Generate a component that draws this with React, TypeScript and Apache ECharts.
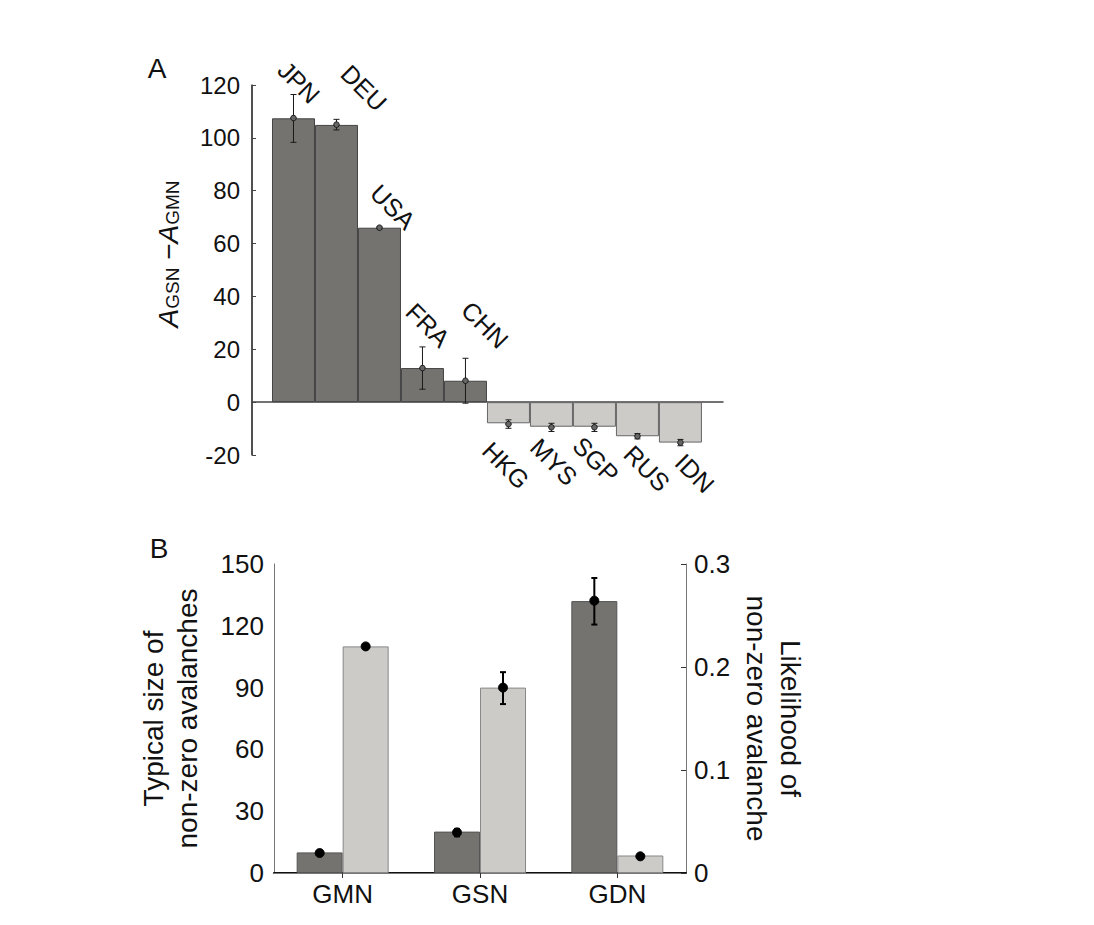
import React, { useEffect, useRef } from "react";
import * as echarts from "echarts";

// ---------- Panel A data ----------
const countriesA = ["JPN", "DEU", "USA", "FRA", "CHN", "HKG", "MYS", "SGP", "RUS", "IDN"];
const diffA = [107.4, 104.9, 66.0, 12.9, 8.1, -8.0, -9.3, -9.3, -12.9, -15.3];
const meanA = [107.5, 105.0, 66.0, 12.9, 8.1, -8.3, -9.5, -9.5, -12.9, -15.3];
const lowA = [98.3, 103.0, 65.7, 4.9, -0.4, -9.9, -11.1, -11.1, -13.9, -16.5];
const highA = [116.4, 107.0, 66.3, 20.9, 16.6, -6.7, -8.0, -8.0, -11.9, -14.1];
const yMinA = -20;
const yMaxA = 120;
const yStepA = 20;
const xMinA = 0.035;
const xMaxA = 10.99;

// label placement (screen px shift of label centre from bar end)
const labelShiftA = [
  [5.5, -36], [27.5, -37], [13.5, -21], [5.5, -43], [19.5, -56],
  [-2.5, 42], [2.5, 35], [1.5, 33], [9.5, 32], [14.5, 30.5],
];

// ---------- Panel B data ----------
const networksB = ["GMN", "GSN", "GDN"];
const sizeB = [10.0, 20.1, 132.0];
const sizeMeanB = [9.7, 19.7, 132.2];
const sizeLowB = [9.3, 17.8, 120.6];
const sizeHighB = [10.1, 21.4, 143.2];
const likeB = [0.22, 0.18, 0.017];
const likeMeanB = [0.22, 0.18, 0.0162];
const likeLowB = [0.2195, 0.164, 0.0158];
const likeHighB = [0.2205, 0.195, 0.0166];
const yMaxSizeB = 150;
const yStepSizeB = 30;
const yMaxLikeB = 0.3;
const yStepLikeB = 0.1;

const FONT = "'Liberation Sans', Arial, Helvetica, sans-serif";
const DARK = "#75736f";
const LIGHT = "#cdcbc8";

// layout of panel A plot area
const GRID_A = { left: 252, top: 85, width: 471, height: 370 };
const GRID_B = { left: 274, top: 564, width: 412, height: 309 };

function errorRenderer(opts: { shift: number; cap: number; lw: number; r: number; fill: string; stroke: string }) {
  return (params: any, api: any) => {
    const i = api.value(0);
    const lo = api.coord([i, api.value(1)]);
    const hi = api.coord([i, api.value(2)]);
    const m = api.coord([i, api.value(3)]);
    const x = lo[0] + opts.shift;
    const st = { stroke: opts.stroke, lineWidth: opts.lw };
    return {
      type: "group",
      children: [
        { type: "line", shape: { x1: x, y1: lo[1], x2: x, y2: hi[1] }, style: st },
        { type: "line", shape: { x1: x - opts.cap, y1: lo[1], x2: x + opts.cap, y2: lo[1] }, style: st },
        { type: "line", shape: { x1: x - opts.cap, y1: hi[1], x2: x + opts.cap, y2: hi[1] }, style: st },
        { type: "circle", shape: { cx: x, cy: m[1], r: opts.r }, style: { fill: opts.fill, stroke: opts.stroke, lineWidth: 1 } },
      ],
    };
  };
}

export default function App() {
  const ref = useRef<HTMLDivElement>(null);

  useEffect(() => {
    if (!ref.current) return;
    const chart = echarts.init(ref.current, undefined, { renderer: "svg" });

    // bar positions along the value x-axis: 1..10 (country rank)
    const posA = countriesA.map((_, i) => i + 1);

    const option: any = {
      animation: false,
      backgroundColor: "#ffffff",
      textStyle: { fontFamily: FONT, color: "#111" },
      graphic: [
        { type: "text", x: 157, y: 68, style: { text: "A", fontSize: 28, fontFamily: FONT, fill: "#111", align: "center", verticalAlign: "middle" } },
        { type: "text", x: 159, y: 548, style: { text: "B", fontSize: 28, fontFamily: FONT, fill: "#111", align: "center", verticalAlign: "middle" } },
        {
          type: "line",
          z: 100,
          silent: true,
          shape: { x1: GRID_A.left, y1: GRID_A.top, x2: GRID_A.left, y2: GRID_A.top + GRID_A.height },
          style: { stroke: "#444", lineWidth: 1.5 },
        },
        {
          type: "text",
          x: 168,
          y: 254,
          rotation: Math.PI / 2,
          style: {
            text: "{a|A}{s|GSN}{m| −}{a|A}{s|GMN}",
            align: "center",
            verticalAlign: "middle",
            rich: {
              a: { fontSize: 28, fontStyle: "italic", fontFamily: FONT, fill: "#111", lineHeight: 28, verticalAlign: "top" },
              m: { fontSize: 28, fontFamily: FONT, fill: "#111", lineHeight: 28, verticalAlign: "top" },
              s: { fontSize: 19, fontFamily: FONT, fill: "#111", lineHeight: 19, padding: [14, 0, 0, 0], verticalAlign: "bottom" },
            },
          },
        },
      ],
      grid: [GRID_A, GRID_B],
      xAxis: [
        {
          gridIndex: 0,
          type: "value",
          min: xMinA,
          max: xMaxA,
          axisLine: { show: true, onZero: true, lineStyle: { color: "#444", width: 1.5 } },
          axisTick: { show: false },
          axisLabel: { show: false },
          splitLine: { show: false },
        },
        {
          gridIndex: 1,
          type: "category",
          data: networksB,
          position: "bottom",
          axisLine: { show: true, lineStyle: { color: "#111", width: 2 } },
          axisTick: { show: false },
          axisLabel: { fontSize: 26, color: "#111", margin: 8, fontFamily: FONT },
          splitLine: { show: false },
        },
        {
          gridIndex: 1,
          type: "category",
          data: networksB,
          position: "top",
          axisLine: { show: true, lineStyle: { color: "#777", width: 1 } },
          axisTick: { show: true, inside: true, length: 5, alignWithLabel: true, lineStyle: { color: "#333" } },
          axisLabel: { show: false },
          splitLine: { show: false },
        },
      ],
      yAxis: [
        {
          gridIndex: 0,
          type: "value",
          z: 10,
          min: yMinA,
          max: yMaxA,
          interval: yStepA,
          axisLine: { show: true, onZero: false, lineStyle: { color: "#444", width: 1.5 } },
          axisTick: { show: true, inside: true, length: 4, lineStyle: { color: "#444" } },
          axisLabel: { fontSize: 24, color: "#111", margin: 12, fontFamily: FONT },
          splitLine: { show: false },
        },
        {
          gridIndex: 1,
          type: "value",
          position: "left",
          min: 0,
          max: yMaxSizeB,
          interval: yStepSizeB,
          axisLine: { show: true, onZero: false, lineStyle: { color: "#777", width: 1 } },
          axisTick: { show: false },
          axisLabel: { fontSize: 26, color: "#111", margin: 10, fontFamily: FONT },
          splitLine: { show: false },
          name: "Typical size of\nnon-zero avalanches",
          nameLocation: "middle",
          nameRotate: 90,
          nameGap: 70,
          nameTextStyle: { fontSize: 28, lineHeight: 34, color: "#111", fontFamily: FONT },
        },
        {
          gridIndex: 1,
          type: "value",
          position: "right",
          min: 0,
          max: yMaxLikeB,
          interval: yStepLikeB,
          axisLine: { show: true, onZero: false, lineStyle: { color: "#777", width: 1 } },
          axisTick: { show: true, inside: true, length: 5, lineStyle: { color: "#333" } },
          axisLabel: { fontSize: 26, color: "#111", margin: 8, fontFamily: FONT },
          splitLine: { show: false },
          name: "Likelihood of\nnon-zero avalanche",
          nameLocation: "middle",
          nameRotate: -90,
          nameGap: 53,
          nameTextStyle: { fontSize: 28, lineHeight: 34, color: "#111", fontFamily: FONT },
        },
      ],
      series: [
        {
          type: "bar",
          xAxisIndex: 0,
          yAxisIndex: 0,
          barWidth: 43,
          data: diffA.map((v, i) => ({
            value: [posA[i], v],
            itemStyle: {
              color: v >= 0 ? DARK : LIGHT,
              borderColor: v >= 0 ? "#444" : "#666",
              borderWidth: 1,
            },
          })),
        },
        {
          type: "custom",
          xAxisIndex: 0,
          yAxisIndex: 0,
          z: 4,
          encode: { x: 0, y: [1, 2, 3] },
          data: countriesA.map((_, i) => [posA[i], lowA[i], highA[i], meanA[i]]),
          renderItem: errorRenderer({ shift: 0, cap: 3, lw: 1, r: 2.8, fill: "#666", stroke: "#1a1a1a" }),
        },
        {
          type: "custom",
          xAxisIndex: 0,
          yAxisIndex: 0,
          z: 5,
          encode: { x: 0, y: 1 },
          data: countriesA.map((_, i) => [posA[i], diffA[i]]),
          renderItem: (params: any, api: any) => {
            const i = params.dataIndex;
            const p = api.coord([api.value(0), api.value(1)]);
            const sh = labelShiftA[i];
            return {
              type: "text",
              x: p[0] + sh[0],
              y: p[1] + sh[1],
              rotation: -Math.PI / 4,
              style: {
                text: countriesA[i],
                fontSize: 25,
                fontFamily: FONT,
                fill: "#111",
                align: "center",
                verticalAlign: "middle",
              },
            };
          },
        },
        {
          type: "bar",
          name: "Typical size",
          xAxisIndex: 1,
          yAxisIndex: 1,
          barWidth: 46,
          barGap: "0%",
          itemStyle: { color: DARK, borderColor: "#555", borderWidth: 1 },
          data: sizeB,
        },
        {
          type: "bar",
          name: "Likelihood",
          xAxisIndex: 1,
          yAxisIndex: 2,
          barWidth: 46,
          barGap: "0%",
          itemStyle: { color: LIGHT, borderColor: "#888", borderWidth: 1 },
          data: likeB,
        },
        {
          type: "custom",
          xAxisIndex: 1,
          yAxisIndex: 1,
          z: 4,
          encode: { x: 0, y: [1, 2, 3] },
          data: networksB.map((_, i) => [i, sizeLowB[i], sizeHighB[i], sizeMeanB[i]]),
          renderItem: errorRenderer({ shift: -23, cap: 3, lw: 2, r: 4.5, fill: "#000", stroke: "#000" }),
        },
        {
          type: "custom",
          xAxisIndex: 1,
          yAxisIndex: 2,
          z: 4,
          encode: { x: 0, y: [1, 2, 3] },
          data: networksB.map((_, i) => [i, likeLowB[i], likeHighB[i], likeMeanB[i]]),
          renderItem: errorRenderer({ shift: 23, cap: 3, lw: 2, r: 4.5, fill: "#000", stroke: "#000" }),
        },
      ],
    };

    chart.setOption(option);
    return () => {
      chart.dispose();
    };
  }, []);

  return (
    <div
      ref={ref}
      style={{ position: "absolute", left: 0, top: 0, width: 1094, height: 925, background: "#fff" }}
    />
  );
}
